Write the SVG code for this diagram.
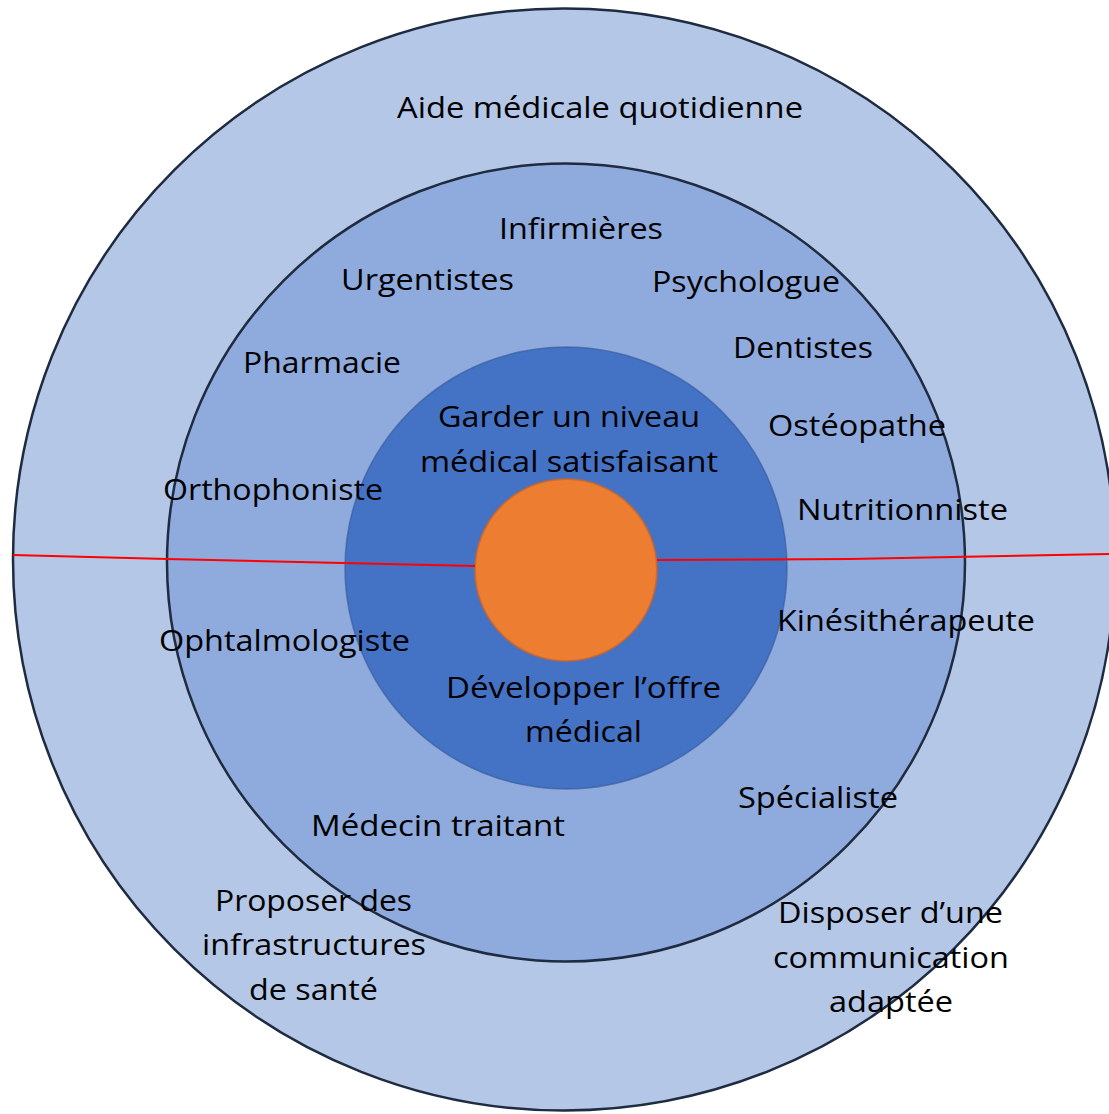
<svg xmlns="http://www.w3.org/2000/svg" width="1109" height="1114" viewBox="0 0 1109 1114">
<style>
text{font-family:"Open Sans","Noto Sans","Liberation Sans",sans-serif;font-size:30px;fill:#000;}
.ring{stroke:#1f2b40;stroke-width:2.5;}
.red{stroke:#ff0000;stroke-width:2;fill:none;}
</style>
<rect width="1109" height="1114" fill="#ffffff"/>
<g id="outer">
<circle cx="564" cy="559.5" r="551" fill="#b4c7e7" class="ring"/>
<text x="397" y="118" textLength="406" lengthAdjust="spacingAndGlyphs">Aide médicale quotidienne</text>
</g>
<g id="middle">
<circle cx="566" cy="562.5" r="399" fill="#8faadc" class="ring"/>
</g>
<g id="inner">
<circle cx="566" cy="568" r="221" fill="#4472c4" stroke="#35589a" stroke-width="1.5" stroke-opacity="0.6"/>
</g>
<g id="core">
<circle cx="566" cy="570" r="91" fill="#ed7d31" stroke="#c9652a" stroke-width="2" stroke-opacity="0.7"/>
</g>
<g id="connectors">
<polyline class="red" points="13,555 167,559 475,566"/>
<polyline class="red" points="657,560 850,559 1109,554"/>
</g>
<g id="labels-middle">
<text x="499" y="239" textLength="164" lengthAdjust="spacingAndGlyphs">Infirmières</text>
<text x="341" y="290" textLength="173" lengthAdjust="spacingAndGlyphs">Urgentistes</text>
<text x="652" y="292" textLength="188" lengthAdjust="spacingAndGlyphs">Psychologue</text>
<text x="243" y="373" textLength="158" lengthAdjust="spacingAndGlyphs">Pharmacie</text>
<text x="733" y="358" textLength="140" lengthAdjust="spacingAndGlyphs">Dentistes</text>
<text x="768" y="436" textLength="178" lengthAdjust="spacingAndGlyphs">Ostéopathe</text>
<text x="163" y="500" textLength="220" lengthAdjust="spacingAndGlyphs">Orthophoniste</text>
<text x="797" y="520" textLength="211" lengthAdjust="spacingAndGlyphs">Nutritionniste</text>
<text x="777" y="631" textLength="258" lengthAdjust="spacingAndGlyphs">Kinésithérapeute</text>
<text x="159" y="651" textLength="251" lengthAdjust="spacingAndGlyphs">Ophtalmologiste</text>
<text x="738" y="808" textLength="160" lengthAdjust="spacingAndGlyphs">Spécialiste</text>
<text x="311" y="836" textLength="254" lengthAdjust="spacingAndGlyphs">Médecin traitant</text>
</g>
<g id="labels-inner">
<text x="438" y="427" textLength="262" lengthAdjust="spacingAndGlyphs">Garder un niveau</text>
<text x="420" y="472" textLength="298" lengthAdjust="spacingAndGlyphs">médical satisfaisant</text>
<text x="446" y="698" textLength="275" lengthAdjust="spacingAndGlyphs">Développer l’offre</text>
<text x="525" y="742" textLength="117" lengthAdjust="spacingAndGlyphs">médical</text>
</g>
<g id="labels-outer">
<text x="215" y="911" textLength="197" lengthAdjust="spacingAndGlyphs">Proposer des</text>
<text x="202" y="955" textLength="224" lengthAdjust="spacingAndGlyphs">infrastructures</text>
<text x="249" y="1000" textLength="129" lengthAdjust="spacingAndGlyphs">de santé</text>
<text x="778" y="923" textLength="225" lengthAdjust="spacingAndGlyphs">Disposer d’une</text>
<text x="773" y="968" textLength="236" lengthAdjust="spacingAndGlyphs">communication</text>
<text x="829" y="1012" textLength="124" lengthAdjust="spacingAndGlyphs">adaptée</text>
</g>
</svg>
